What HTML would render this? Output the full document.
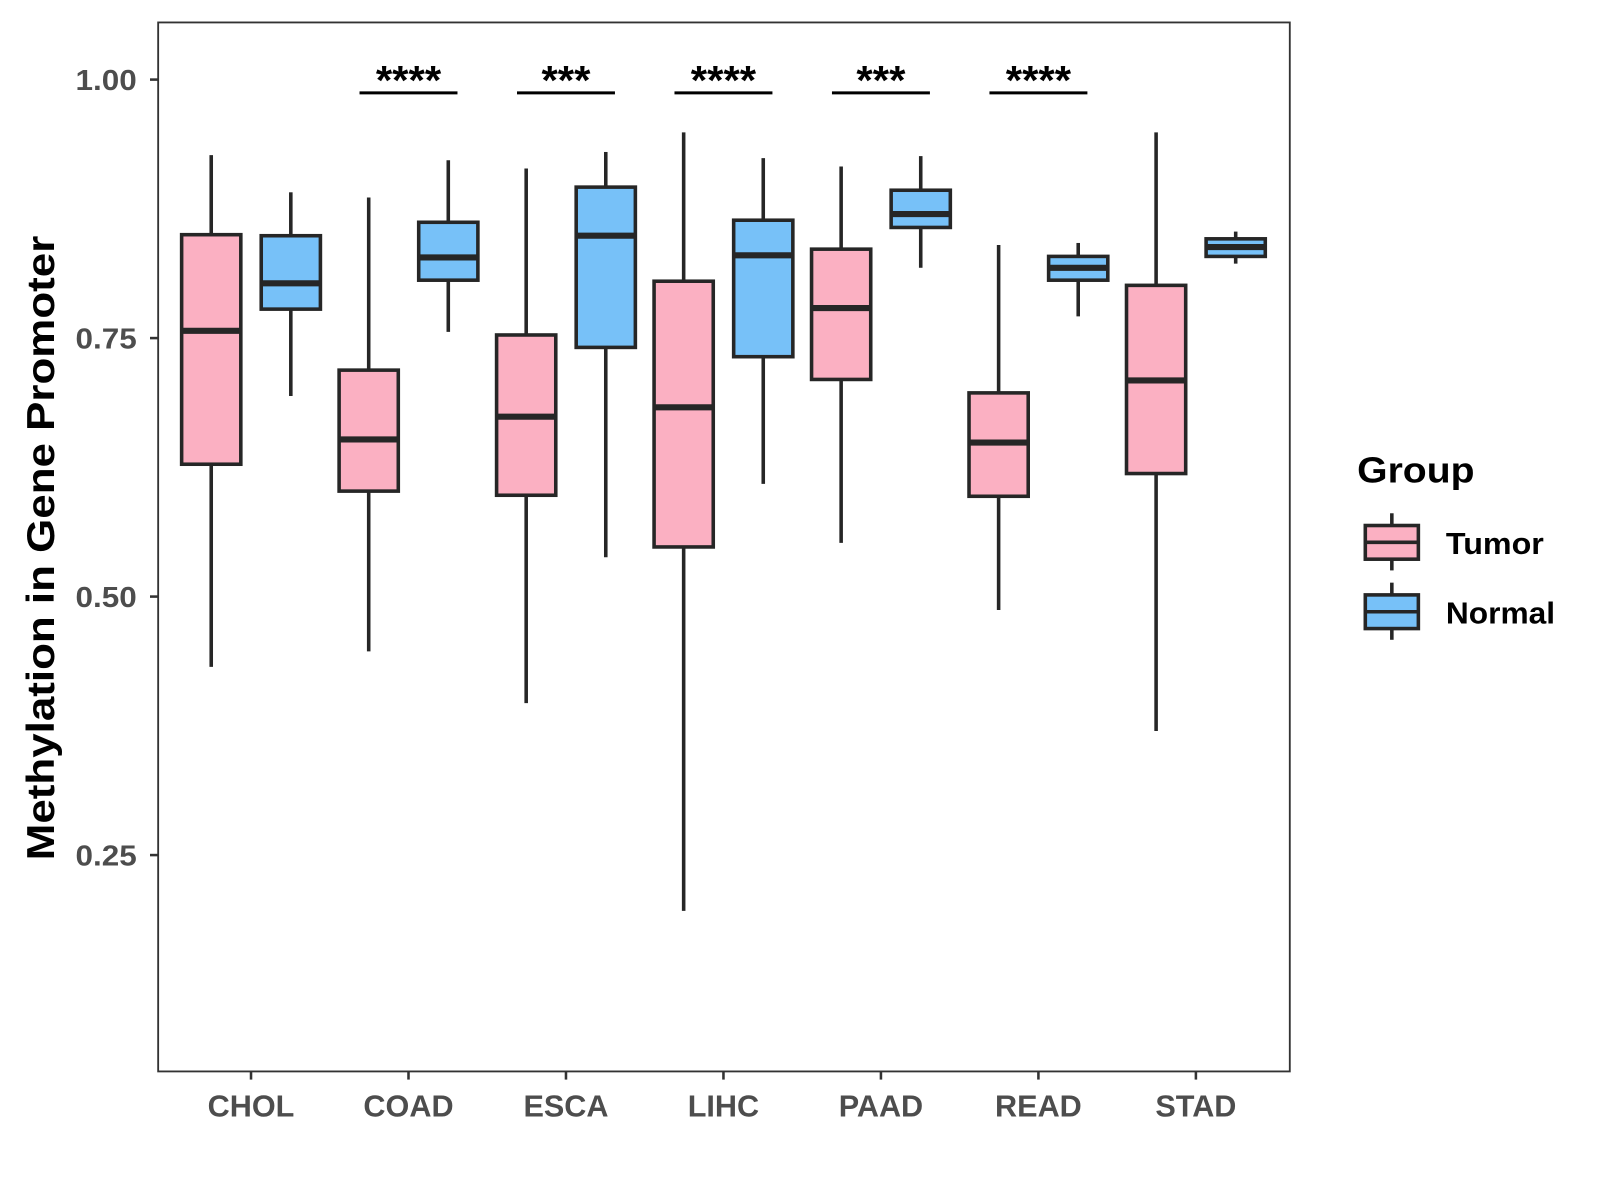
<!DOCTYPE html>
<html><head><meta charset="utf-8"><style>
html,body{margin:0;padding:0;background:#fff;}
svg{display:block;font-family:"Liberation Sans",Arial,sans-serif;}
</style></head>
<body>
<svg id="chart" width="1600" height="1200" viewBox="0 0 1568 1176" xmlns="http://www.w3.org/2000/svg">
<rect x="0" y="0" width="1568" height="1176" fill="#fff"/>
<g id="plot"></g>
<text transform="translate(53,537) rotate(-90)" text-anchor="middle" font-size="38" font-weight="bold" fill="#000" textLength="612" lengthAdjust="spacingAndGlyphs">Methylation in Gene Promoter</text>
<g>
<text x="1330" y="473" font-size="35" font-weight="bold" fill="#000" textLength="115" lengthAdjust="spacingAndGlyphs">Group</text>
<g>
<line x1="1364" y1="503" x2="1364" y2="559" stroke="#262626" stroke-width="3.5"/>
<rect x="1338" y="515" width="52" height="33" fill="#FBB0C2" stroke="#262626" stroke-width="3.5"/>
<line x1="1338" y1="531.5" x2="1390" y2="531.5" stroke="#262626" stroke-width="3.5"/>
<text x="1417" y="543" font-size="30" font-weight="bold" fill="#000" textLength="96" lengthAdjust="spacingAndGlyphs">Tumor</text>
</g>
<g>
<line x1="1364" y1="571" x2="1364" y2="627" stroke="#262626" stroke-width="3.5"/>
<rect x="1338" y="583" width="52" height="33" fill="#77C1F8" stroke="#262626" stroke-width="3.5"/>
<line x1="1338" y1="599.5" x2="1390" y2="599.5" stroke="#262626" stroke-width="3.5"/>
<text x="1417" y="611" font-size="30" font-weight="bold" fill="#000" textLength="107" lengthAdjust="spacingAndGlyphs">Normal</text>
</g>
</g>
</svg>
<script>
const categories = ["CHOL","COAD","ESCA","LIHC","PAAD","READ","STAD"];
// [lower whisker, Q1, median, Q3, upper whisker]
const tumorStats = [
  [0.432,0.628,0.757,0.850,0.927],
  [0.447,0.602,0.652,0.719,0.886],
  [0.397,0.598,0.674,0.753,0.914],
  [0.196,0.548,0.683,0.805,0.949],
  [0.552,0.710,0.779,0.836,0.916],
  [0.487,0.597,0.649,0.697,0.840],
  [0.370,0.619,0.709,0.801,0.949]
];
const normalStats = [
  [0.694,0.778,0.803,0.849,0.891],
  [0.756,0.806,0.828,0.862,0.922],
  [0.538,0.741,0.849,0.896,0.930],
  [0.609,0.732,0.830,0.864,0.924],
  [0.818,0.857,0.870,0.893,0.926],
  [0.771,0.806,0.818,0.829,0.842],
  [0.822,0.829,0.838,0.846,0.853]
];
const sigLabels = ["","****","***","****","***","****",""];
const yTicks = [0.25,0.50,0.75,1.00];
const yTickLabels = ["0.25","0.50","0.75","1.00"];

const NS="http://www.w3.org/2000/svg";
const P={l:155,r:1264,t:22,b:1050};
const y=v=>78+(1-v)*1013.3;
const x=i=>246+i*154.33;
const g=document.getElementById('plot');
function mk(tag,attrs,parent){const e=document.createElementNS(NS,tag);for(const k in attrs)e.setAttribute(k,attrs[k]);(parent||g).appendChild(e);return e;}

const border=mk('rect',{x:P.l,y:P.t,width:P.r-P.l,height:P.b-P.t,fill:'none',stroke:'#333',"stroke-width":1.8});



yTicks.forEach((v,i)=>{
  const t=mk('line',{x1:P.l-8,x2:P.l,y1:y(v),y2:y(v),stroke:'#333',"stroke-width":2.5});
  
  
  const l=mk('text',{x:P.l-21,y:y(v)+10,"text-anchor":"end","font-size":28,"font-weight":"bold",fill:"#4d4d4d",textLength:60,lengthAdjust:"spacingAndGlyphs"});
  l.textContent=yTickLabels[i];
  
  
});
categories.forEach((c,i)=>{
  const t=mk('line',{x1:x(i),x2:x(i),y1:P.b,y2:P.b+8,stroke:'#333',"stroke-width":2.5});
  
  
  const l=mk('text',{x:x(i),y:P.b+44,"text-anchor":"middle","font-size":30,"font-weight":"bold",fill:"#4d4d4d"});
  l.textContent=c;
  
  
});

function box(cx,s,fill,name){
  const grp=mk('g',{});
  
  
  mk('line',{x1:cx,x2:cx,y1:y(s[0]),y2:y(s[1]),stroke:'#262626',"stroke-width":3.5},grp);
  mk('line',{x1:cx,x2:cx,y1:y(s[3]),y2:y(s[4]),stroke:'#262626',"stroke-width":3.5},grp);
  mk('rect',{x:cx-29,y:y(s[3]),width:58,height:y(s[1])-y(s[3]),fill:fill,stroke:'#262626',"stroke-width":3.5},grp);
  mk('line',{x1:cx-29,x2:cx+29,y1:y(s[2]),y2:y(s[2]),stroke:'#262626',"stroke-width":6},grp);
}
categories.forEach((c,i)=>{
  box(x(i)-39,tumorStats[i],'#FBB0C2','box-tumor-'+c.toLowerCase());
  box(x(i)+39,normalStats[i],'#77C1F8','box-normal-'+c.toLowerCase());
  if(sigLabels[i]){
    const ln=mk('line',{x1:x(i)-48,x2:x(i)+48,y1:91,y2:91,stroke:'#000',"stroke-width":3});
    
    
    const t=mk('text',{x:x(i),y:92,"text-anchor":"middle","font-size":40,"font-weight":"bold",fill:"#000",textLength:sigLabels[i].length*16,lengthAdjust:"spacingAndGlyphs"});
    t.textContent=sigLabels[i];
    
    
  }
});
</script>
</body></html>
